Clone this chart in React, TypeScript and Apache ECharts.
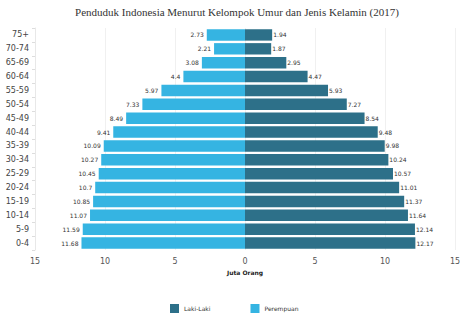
import React, { useEffect, useRef } from "react";
import * as echarts from "echarts";

const categories = ["0-4", "5-9", "10-14", "15-19", "20-24", "25-29", "30-34", "35-39", "40-44", "45-49", "50-54", "55-59", "60-64", "65-69", "70-74", "75+"];
const lakiLaki = [12.17, 12.14, 11.64, 11.37, 11.01, 10.57, 10.24, 9.98, 9.48, 8.54, 7.27, 5.93, 4.47, 2.95, 1.87, 1.94];
const perempuan = [11.68, 11.59, 11.07, 10.85, 10.7, 10.45, 10.27, 10.09, 9.41, 8.49, 7.33, 5.97, 4.4, 3.08, 2.21, 2.73];
const titleText = "Penduduk Indonesia Menurut Kelompok Umur dan Jenis Kelamin (2017)";

export default function App() {
  const ref = useRef<HTMLDivElement>(null);
  useEffect(() => {
    const chart = echarts.init(ref.current!, null, { renderer: "svg" });
    chart.setOption({
      animation: false,
      title: {
        text: titleText,
        left: "center",
        top: 1,
        textStyle: { fontFamily: "Liberation Serif", fontWeight: "normal", fontSize: 11, color: "#333" },
      },
      legend: {
        bottom: 16,
        left: 165,
        itemWidth: 9,
        itemHeight: 9,
        itemGap: 40,
        icon: "rect",
        textStyle: { fontSize: 6, color: "#333", fontFamily: "DejaVu Sans" },
        data: ["Laki-Laki", "Perempuan"],
      },
      grid: { left: 35, right: 19, top: 28, bottom: 84 },
      xAxis: {
        type: "value",
        min: -15,
        max: 15,
        interval: 5,
        name: "Juta Orang",
        nameLocation: "middle",
        nameGap: 18,
        nameTextStyle: { fontSize: 6, fontWeight: "bold", color: "#222", fontFamily: "DejaVu Sans" },
        axisLabel: {
          formatter: (v: number) => String(Math.abs(v)),
          fontSize: 8,
          color: "#555",
          margin: 7,
          fontFamily: "DejaVu Sans",
        },
        axisLine: { show: false },
        axisTick: { show: false },
        splitLine: { show: true, lineStyle: { color: "#f0f0f0" } },
      },
      yAxis: {
        type: "category",
        data: categories,
        axisLine: { onZero: false, lineStyle: { color: "#e8e8e8" } },
        axisTick: { show: true, length: 3, lineStyle: { color: "#ddd" } },
        axisLabel: { fontSize: 8, color: "#444", margin: 6, fontFamily: "DejaVu Sans" },
      },
      series: [
        {
          name: "Laki-Laki",
          type: "bar",
          data: lakiLaki,
          barWidth: "82%",
          barGap: "-100%",
          itemStyle: { color: "#2d7089" },
          label: {
            show: true,
            position: "right",
            distance: 1,
            fontSize: 6,
            color: "#333",
            fontFamily: "DejaVu Sans",
          },
        },
        {
          name: "Perempuan",
          type: "bar",
          data: perempuan.map((v) => -v),
          barWidth: "82%",
          barGap: "-100%",
          itemStyle: { color: "#35b4e2" },
          label: {
            show: true,
            position: "left",
            distance: 3,
            fontSize: 6,
            color: "#333",
            fontFamily: "DejaVu Sans",
            formatter: (p: any) => String(Math.abs(p.value)),
          },
        },
      ],
    });
    return () => chart.dispose();
  }, []);
  return <div ref={ref} style={{ width: 474, height: 334, position: "absolute", left: 0, top: 0 }} />;
}
